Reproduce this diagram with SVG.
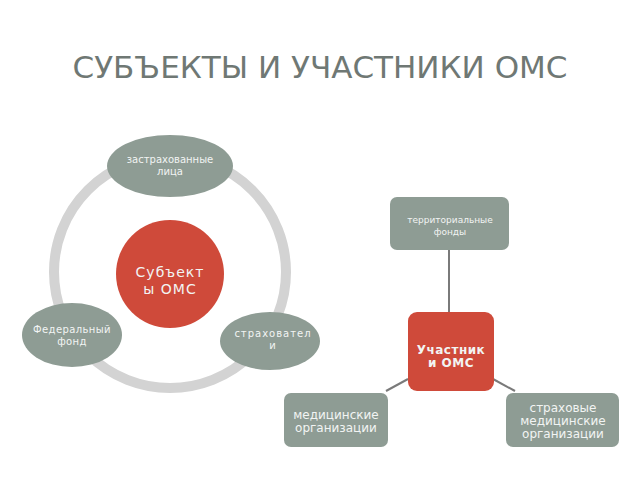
<svg xmlns="http://www.w3.org/2000/svg" width="640" height="480" viewBox="0 0 640 480">
<style>
.t{font-family:"DejaVu Sans","Liberation Sans",sans-serif;text-anchor:middle;fill:#f2f4f3}
.g{fill:#8e9c94}
.r{fill:#cf4a3a}
.c{stroke:#7a7a7a;stroke-width:2;fill:none}
</style>
<rect width="640" height="480" fill="#ffffff"/>
<text x="320" y="78" font-family="DejaVu Sans, Liberation Sans, sans-serif" font-size="30" fill="#6f7874" text-anchor="middle" textLength="495" lengthAdjust="spacingAndGlyphs">СУБЪЕКТЫ И УЧАСТНИКИ ОМС</text>
<g id="connectors">
<circle cx="170" cy="272" r="116" fill="none" stroke="#d3d3d3" stroke-width="10"/>
<line class="c" x1="449" y1="250" x2="449" y2="312"/>
<line class="c" x1="386" y1="391" x2="408" y2="379"/>
<line class="c" x1="493" y1="379" x2="515" y2="391"/>
</g>
<g id="subjects">
<circle class="r" cx="170" cy="274" r="54"/>
<text class="t" x="170" y="277" font-size="14" letter-spacing="1">Субъект</text>
<text class="t" x="170" y="294" font-size="14" letter-spacing="1">ы ОМС</text>
</g>
<g id="insured">
<ellipse class="g" cx="170" cy="166" rx="63" ry="31"/>
<text class="t" x="170" y="162.5" font-size="10">застрахованные</text>
<text class="t" x="170" y="174.5" font-size="10">лица</text>
</g>
<g id="federal">
<ellipse class="g" cx="72" cy="335" rx="50" ry="32"/>
<text class="t" x="72" y="332.5" font-size="10" letter-spacing="0.4">Федеральный</text>
<text class="t" x="72" y="344.5" font-size="10" letter-spacing="0.4">фонд</text>
</g>
<g id="insurers">
<ellipse class="g" cx="270" cy="341" rx="50" ry="29"/>
<text class="t" x="273" y="337" font-size="10" letter-spacing="1">страховател</text>
<text class="t" x="273" y="348.5" font-size="10" letter-spacing="1">и</text>
</g>
<g id="territorial">
<rect class="g" x="390" y="197" width="119" height="53" rx="7"/>
<text class="t" x="450" y="223" font-size="9">территориальные</text>
<text class="t" x="450" y="235" font-size="9">фонды</text>
</g>
<g id="participants">
<rect class="r" x="408" y="312" width="86" height="79" rx="9"/>
<text class="t" x="451" y="354" font-size="12" font-weight="bold" letter-spacing="0.5">Участник</text>
<text class="t" x="451" y="367" font-size="12" font-weight="bold" letter-spacing="0.5">и ОМС</text>
</g>
<g id="medical">
<rect class="g" x="284" y="393" width="104" height="54" rx="7"/>
<text class="t" x="336" y="419" font-size="12">медицинские</text>
<text class="t" x="336" y="432" font-size="12">организации</text>
</g>
<g id="smo">
<rect class="g" x="506" y="393" width="113" height="54" rx="7"/>
<text class="t" x="563" y="412" font-size="12">страховые</text>
<text class="t" x="563" y="425" font-size="12">медицинские</text>
<text class="t" x="563" y="438" font-size="12">организации</text>
</g>
</svg>
